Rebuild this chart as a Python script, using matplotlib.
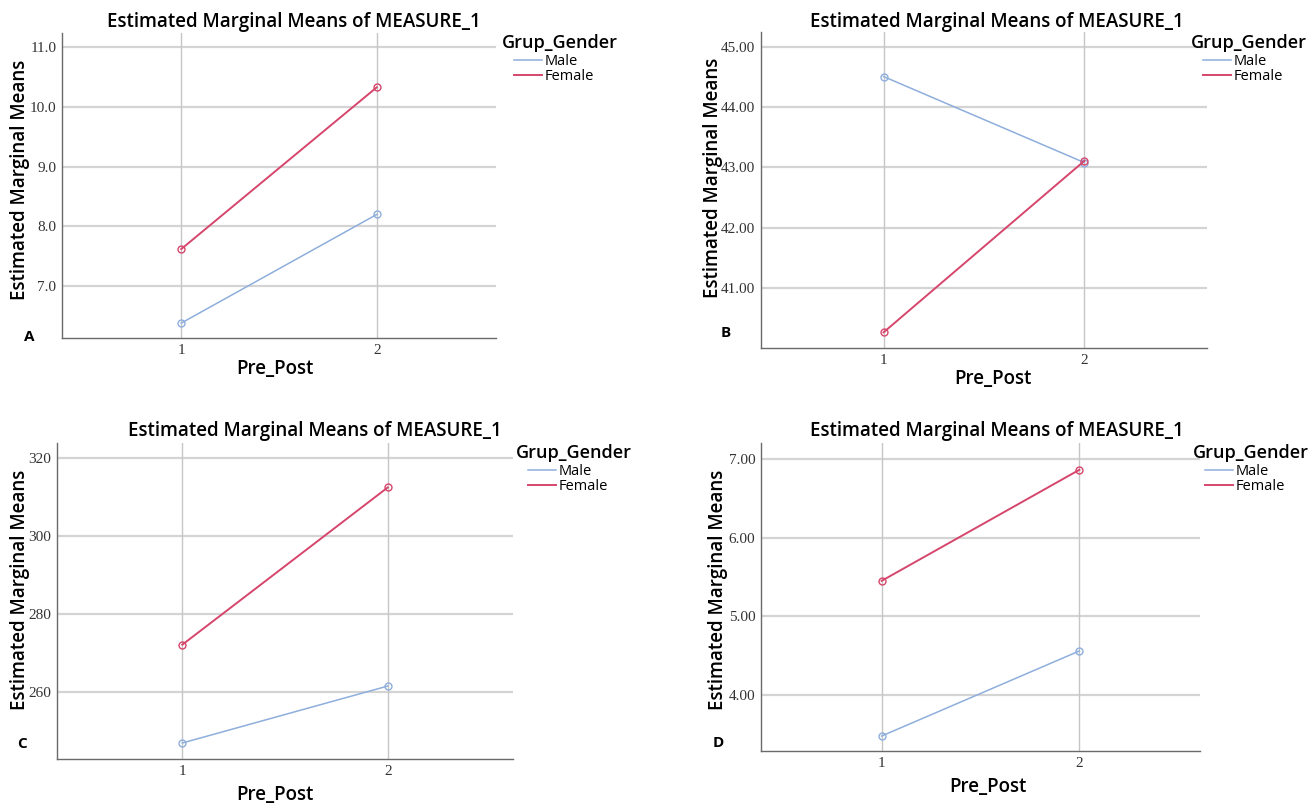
import numpy as np
import matplotlib
matplotlib.use("Agg")
import matplotlib.pyplot as plt
from matplotlib.lines import Line2D

# estimated marginal means
pre_post = [1, 2]
male_a = [6.38, 8.20]
female_a = [7.62, 10.33]
male_b = [44.51, 43.08]
female_b = [40.26, 43.11]
male_c = [246.9, 261.5]
female_c = [272.1, 312.4]
male_d = [3.48, 4.56]
female_d = [5.45, 6.86]

ticks_a = [7.0, 8.0, 9.0, 10.0, 11.0]
ticks_b = [41.0, 42.0, 43.0, 44.0, 45.0]
ticks_c = [260, 280, 300, 320]
ticks_d = [4.0, 5.0, 6.0, 7.0]

groups = ["Male", "Female"]
title = "Estimated Marginal Means of MEASURE_1"

W, H = 1311, 805
fig = plt.figure(figsize=(W / 100, H / 100), dpi=100)
fig.patch.set_facecolor("white")

sans = "Open Sans"
serif = "Liberation Serif"
c_male = "#8eaedc"
c_female = "#d6466c"


def fx(px):
    return px / W


def fy(py):
    return 1 - py / H


def panel(box, male, female, ticks, fmt, ylim, letter, txt):
    left, top, right, bottom = box
    ax = fig.add_axes([fx(left), fy(bottom), (right - left) / W, (bottom - top) / H])
    for t in ticks:
        ax.axhline(t, color="#d4d4d4", lw=1.6, zorder=0)
    for x in pre_post:
        ax.axvline(x, color="#c6c6c6", lw=1.0, zorder=0)
    ax.plot(pre_post, male, color=c_male, lw=1.1, marker="o", ms=5,
            mfc="none", mew=1.0)
    ax.plot(pre_post, female, color=c_female, lw=1.4, marker="o", ms=5,
            mfc="none", mew=1.0)
    ax.set_xlim(0.39, 2.61)
    ax.set_ylim(*ylim)
    ax.set_xticks(pre_post)
    ax.set_yticks(ticks)
    ax.set_yticklabels([fmt % t for t in ticks])
    ax.tick_params(length=0, labelsize=11, colors="#333333", pad=4)
    for lab in ax.get_xticklabels() + ax.get_yticklabels():
        lab.set_family(serif)
    for s in ["top", "right"]:
        ax.spines[s].set_visible(False)
    for s in ["left", "bottom"]:
        ax.spines[s].set_color("#6a6a6a")
        ax.spines[s].set_linewidth(1.0)

    # texts placed like the SPSS export
    fig.text(fx(txt["title"][0]), fy(txt["title"][1]), title, family=sans,
             fontsize=13.5, weight="semibold", ha="center", va="center")
    fig.text(fx(txt["ylab"][0]), fy(txt["ylab"][1]), "Estimated Marginal Means",
             family=sans, fontsize=13.5, weight="semibold", rotation=90,
             ha="center", va="center")
    fig.text(fx(txt["xlab"][0]), fy(txt["xlab"][1]), "Pre_Post", family=sans,
             fontsize=13.5, weight="semibold", ha="center", va="center")
    fig.text(fx(txt["letter"][0]), fy(txt["letter"][1]), letter, family=sans,
             fontsize=11, weight="bold", ha="center", va="center")
    fig.text(fx(txt["leg"][0]), fy(txt["leg"][1]), "Grup_Gender", family=sans,
             fontsize=13, weight="semibold", ha="left", va="center")
    handles = [Line2D([], [], color=c_male, lw=1.1),
               Line2D([], [], color=c_female, lw=1.4)]
    ax.legend(handles, groups, loc="upper left", frameon=False,
              bbox_to_anchor=(fx(txt["leg"][0] + 12), fy(txt["leg"][1] + 11)),
              bbox_transform=fig.transFigure, borderpad=0, borderaxespad=0,
              handlelength=1.9, handletextpad=0.2, labelspacing=0.0,
              prop={"family": sans, "size": 10.5})
    return ax


panel((62, 33, 496, 338), male_a, female_a, ticks_a, "%.1f", (6.13, 11.24), "A",
      {"title": (294, 22), "ylab": (20, 180), "xlab": (275, 369),
       "letter": (29, 337), "leg": (502, 43)})
panel((761, 32, 1207, 348), male_b, female_b, ticks_b, "%.2f", (40.0, 45.25), "B",
      {"title": (997, 22), "ylab": (713, 178), "xlab": (993, 379),
       "letter": (726, 333), "leg": (1191, 43)})
panel((57, 443, 513, 759), male_c, female_c, ticks_c, "%d", (242.8, 323.8), "C",
      {"title": (315, 431), "ylab": (20, 590), "xlab": (275, 795),
       "letter": (22, 744), "leg": (516, 453)})
panel((761, 443, 1200, 751), male_d, female_d, ticks_d, "%.2f", (3.29, 7.20), "D",
      {"title": (997, 431), "ylab": (718, 590), "xlab": (988, 787),
       "letter": (718, 743), "leg": (1193, 453)})

plt.savefig("out.png", dpi=100)
